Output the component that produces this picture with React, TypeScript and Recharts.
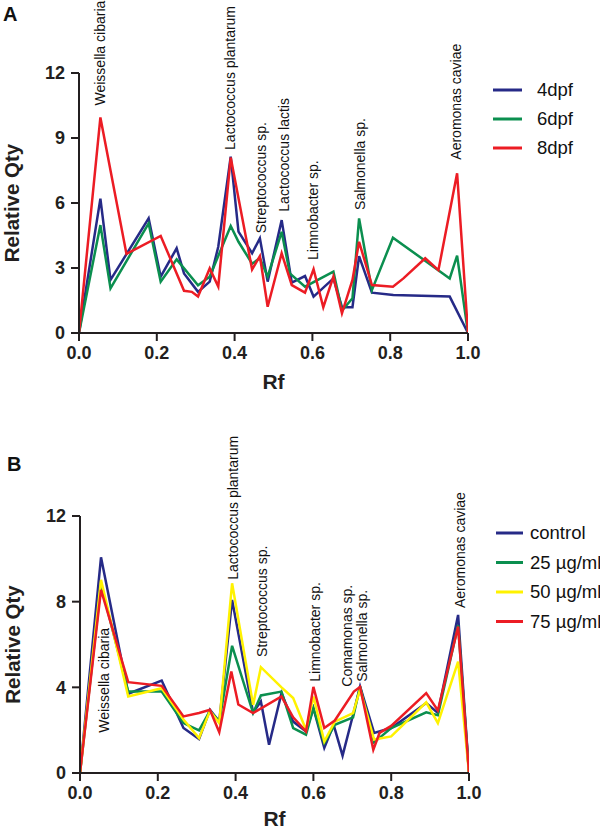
import React from "react";
import { LineChart, Line, XAxis, YAxis, ReferenceDot } from "recharts";

// ---------- Panel A data ----------
const a4Rf = [0, 0.055, 0.081, 0.179, 0.21, 0.251, 0.27, 0.306, 0.336, 0.358, 0.39, 0.41, 0.445, 0.465, 0.485, 0.521, 0.547, 0.581, 0.603, 0.654, 0.676, 0.703, 0.72, 0.753, 0.808, 0.953, 1.0];
const a4Qty = [0, 6.2, 2.45, 5.29, 2.6, 3.91, 2.75, 1.9, 2.37, 3.98, 8.14, 4.68, 3.68, 4.37, 2.37, 5.21, 2.32, 2.63, 1.68, 2.52, 1.19, 1.19, 3.55, 1.86, 1.75, 1.68, 0];

const a6Rf = [0, 0.055, 0.081, 0.179, 0.21, 0.251, 0.306, 0.336, 0.39, 0.41, 0.445, 0.465, 0.485, 0.521, 0.542, 0.581, 0.654, 0.676, 0.703, 0.72, 0.753, 0.807, 0.953, 0.972, 1.0];
const a6Qty = [0, 4.98, 2.06, 5.06, 2.37, 3.4, 2.2, 2.6, 4.94, 4.21, 3.2, 3.45, 2.6, 4.67, 2.75, 2.14, 2.83, 1.04, 1.6, 5.29, 1.98, 4.4, 2.52, 3.57, 0];

const a8Rf = [0, 0.055, 0.122, 0.21, 0.27, 0.29, 0.306, 0.336, 0.358, 0.39, 0.445, 0.465, 0.485, 0.521, 0.547, 0.581, 0.603, 0.628, 0.654, 0.676, 0.703, 0.72, 0.753, 0.807, 0.834, 0.89, 0.924, 0.972, 1.0];
const a8Qty = [0, 9.95, 3.65, 4.48, 1.95, 1.9, 1.68, 2.98, 2.14, 8.1, 2.93, 3.55, 1.21, 3.68, 2.21, 1.86, 2.94, 1.19, 2.6, 0.91, 2.45, 4.21, 2.21, 2.14, 2.52, 3.45, 2.9, 7.37, 0];

const aLabels = ["Weissella cibaria", "Lactococcus plantarum", "Streptococcus sp.", "Lactococcus lactis", "Limnobacter sp.", "Salmonella sp.", "Aeromonas caviae"];
const aLabelRf = [0.053, 0.387, 0.467, 0.526, 0.601, 0.723, 0.969];
const aLabelQty = [10.5, 8.45, 4.6, 5.6, 3.37, 5.68, 8.0];

const aSeriesNames = ["4dpf", "6dpf", "8dpf"];
const aTicksY = [0, 3, 6, 9, 12];

// ---------- Panel B data ----------
const bCtrlRf = [0, 0.054, 0.124, 0.21, 0.266, 0.306, 0.334, 0.358, 0.391, 0.445, 0.465, 0.486, 0.518, 0.548, 0.581, 0.6, 0.628, 0.652, 0.675, 0.702, 0.72, 0.756, 0.8, 0.89, 0.92, 0.972, 1.0];
const bCtrlQty = [0, 10.07, 3.7, 4.32, 2.1, 1.59, 2.95, 2.4, 8.08, 2.83, 3.34, 1.32, 3.73, 2.4, 1.94, 3.03, 1.17, 2.25, 0.81, 2.72, 4.04, 1.87, 2.1, 3.27, 2.8, 7.38, 0];

const b25Rf = [0, 0.054, 0.124, 0.21, 0.266, 0.306, 0.334, 0.358, 0.391, 0.445, 0.465, 0.518, 0.548, 0.581, 0.6, 0.628, 0.655, 0.702, 0.72, 0.756, 0.8, 0.89, 0.92, 0.972, 1.0];
const b25Qty = [0, 8.8, 3.8, 3.8, 2.33, 1.99, 2.9, 2.4, 5.94, 2.8, 3.62, 3.8, 2.1, 1.79, 3.03, 1.4, 2.25, 2.6, 4.04, 1.43, 2.1, 2.83, 2.7, 6.9, 0];

const b50Rf = [0, 0.054, 0.124, 0.21, 0.266, 0.306, 0.334, 0.358, 0.391, 0.445, 0.465, 0.518, 0.548, 0.581, 0.6, 0.628, 0.655, 0.702, 0.72, 0.756, 0.8, 0.89, 0.92, 0.972, 1.0];
const b50Qty = [0, 9.02, 3.57, 3.96, 2.5, 1.63, 2.9, 2.33, 8.86, 3.18, 4.94, 4.0, 3.5, 2.02, 3.57, 1.47, 2.4, 2.8, 3.9, 1.56, 1.71, 3.3, 2.33, 5.2, 0];

const b75Rf = [0, 0.054, 0.124, 0.21, 0.266, 0.306, 0.334, 0.358, 0.389, 0.407, 0.445, 0.518, 0.548, 0.581, 0.6, 0.628, 0.655, 0.704, 0.72, 0.754, 0.77, 0.8, 0.89, 0.92, 0.972, 1.0];
const b75Qty = [0, 8.55, 4.24, 4.07, 2.64, 2.8, 2.95, 1.9, 4.74, 3.2, 2.8, 3.57, 2.6, 1.94, 4.02, 2.1, 2.45, 3.8, 4.02, 1.09, 1.87, 2.2, 3.73, 2.92, 6.84, 0];

const bLabels = ["Weissella cibaria", "Lactococcus plantarum", "Streptococcus sp.", "Limnobacter sp.", "Comamonas sp.", "Salmonella sp.", "Aeromonas caviae"];
const bLabelRf = [0.062, 0.394, 0.469, 0.604, 0.686, 0.724, 0.977];
const bLabelQty = [1.88, 9.02, 5.42, 4.26, 4.03, 4.26, 7.7];

const bSeriesNames = ["control", "25 µg/ml", "50 µg/ml", "75 µg/ml"];
const bTicksY = [0, 4, 8, 12];

const xTicks = [0, 0.2, 0.4, 0.6, 0.8, 1.0];

// ---------- styles ----------
const FONT = "'Liberation Sans', Arial, sans-serif";
const AXIS = "#231f20";
const BLUE = "#262a87";
const GREEN = "#0b8f4f";
const RED = "#ec1c24";
const YELLOW = "#fff200";

const zip = (rf: number[], q: number[]) => rf.map((r, i) => ({ rf: r, qty: q[i] }));

const aSeries = [
  { name: aSeriesNames[0], color: BLUE, data: zip(a4Rf, a4Qty) },
  { name: aSeriesNames[1], color: GREEN, data: zip(a6Rf, a6Qty) },
  { name: aSeriesNames[2], color: RED, data: zip(a8Rf, a8Qty) },
];
const bSeries = [
  { name: bSeriesNames[0], color: BLUE, data: zip(bCtrlRf, bCtrlQty) },
  { name: bSeriesNames[1], color: GREEN, data: zip(b25Rf, b25Qty) },
  { name: bSeriesNames[2], color: YELLOW, data: zip(b50Rf, b50Qty) },
  { name: bSeriesNames[3], color: RED, data: zip(b75Rf, b75Qty) },
];

const makeAnnot = (text: string) => (p: any) => {
  const { cx, cy } = p;
  if (cx == null || cy == null) return <g />;
  return (
    <text
      x={cx}
      y={cy}
      dy="0.36em"
      transform={`rotate(-90, ${cx}, ${cy})`}
      fontFamily={FONT}
      fontSize={14}
      fill="#111"
      textAnchor="start"
    >
      {text}
    </text>
  );
};

const tickStyle = { fontFamily: FONT, fontSize: 18, fontWeight: 700, fill: AXIS };

function Panel(props: {
  series: { name: string; color: string; data: { rf: number; qty: number }[] }[];
  labels: string[];
  labelRf: number[];
  labelQty: number[];
  yTicks: number[];
  height: number;
  top: number;
  xAxisH: number;
  yAxisW: number;
  right: number;
  yLabelX: number;
  rfDy: number;
}) {
  const { series, labels, labelRf, labelQty, yTicks, height, top, xAxisH, yAxisW, right, yLabelX, rfDy } = props;
  return (
    <LineChart
      width={600}
      height={height}
      margin={{ top, right, left: 0, bottom: 0 }}
      style={{ position: "absolute", left: 0, top: 0 }}
    >
      <XAxis
        type="number"
        dataKey="rf"
        domain={[0, 1]}
        ticks={xTicks}
        allowDataOverflow
        tickFormatter={(v: number) => v.toFixed(1)}
        height={xAxisH}
        tickSize={8}
        tickMargin={5}
        axisLine={{ stroke: AXIS, strokeWidth: 2 }}
        tickLine={{ stroke: AXIS, strokeWidth: 2 }}
        tick={tickStyle}
        label={{
          content: (lp: any) => {
            const vb = lp.viewBox || {};
            return (
              <text
                x={vb.x + vb.width / 2}
                y={vb.y + rfDy}
                textAnchor="middle"
                fontFamily={FONT}
                fontSize={21}
                fontWeight={700}
                fill={AXIS}
              >
                Rf
              </text>
            );
          },
        }}
      />
      <YAxis
        type="number"
        dataKey="qty"
        domain={[0, 12]}
        ticks={yTicks}
        allowDataOverflow
        width={yAxisW}
        tickSize={8}
        tickMargin={6}
        axisLine={{ stroke: AXIS, strokeWidth: 2 }}
        tickLine={{ stroke: AXIS, strokeWidth: 2 }}
        tick={tickStyle}
        label={{
          content: (lp: any) => {
            const vb = lp.viewBox || {};
            const cy = vb.y + vb.height / 2;
            return (
              <text
                x={yLabelX}
                y={cy}
                transform={`rotate(-90, ${yLabelX}, ${cy})`}
                textAnchor="middle"
                fontFamily={FONT}
                fontSize={20.5}
                fontWeight={700}
                fill={AXIS}
              >
                Relative Qty
              </text>
            );
          },
        }}
      />
      {series.map((s) => (
        <Line
          key={s.name}
          data={s.data}
          dataKey="qty"
          name={s.name}
          type="linear"
          stroke={s.color}
          strokeWidth={2.5}
          dot={false}
          activeDot={false}
          isAnimationActive={false}
        />
      ))}
      {labels.map((t, i) => (
        <ReferenceDot
          key={t + i}
          x={labelRf[i]}
          y={labelQty[i]}
          r={0}
          ifOverflow="visible"
          shape={makeAnnot(t)}
        />
      ))}
    </LineChart>
  );
}

function LegendBox(props: { series: { name: string; color: string }[]; x1: number; x2: number; tx: number; y0: number; step: number }) {
  const { series, x1, x2, tx, y0, step } = props;
  return (
    <g>
      {series.map((s, i) => {
        const y = y0 + i * step;
        return (
          <g key={s.name}>
            <line x1={x1} x2={x2} y1={y} y2={y} stroke={s.color} strokeWidth={3} />
            <text x={tx} y={y} dy="0.35em" fontFamily={FONT} fontSize={18.5} fill="#111">
              {s.name}
            </text>
          </g>
        );
      })}
    </g>
  );
}

export default function App() {
  return (
    <div style={{ position: "absolute", left: 0, top: 0, width: 600, height: 831, background: "#fff", overflow: "hidden" }}>
      <div style={{ position: "absolute", left: 0, top: 0, width: 600, height: 400 }}>
        <Panel
          series={aSeries}
          labels={aLabels}
          labelRf={aLabelRf}
          labelQty={aLabelQty}
          yTicks={aTicksY}
          height={400}
          top={73}
          xAxisH={67}
          yAxisW={79}
          right={132}
          yLabelX={18.5}
          rfDy={56}
        />
      </div>
      <div style={{ position: "absolute", left: 0, top: 420, width: 600, height: 411 }}>
        <Panel
          series={bSeries}
          labels={bLabels}
          labelRf={bLabelRf}
          labelQty={bLabelQty}
          yTicks={bTicksY}
          height={411}
          top={96}
          xAxisH={58}
          yAxisW={80}
          right={131}
          yLabelX={19.5}
          rfDy={53}
        />
      </div>
      <svg width={600} height={831} style={{ position: "absolute", left: 0, top: 0, pointerEvents: "none" }}>
        <text x={3} y={21} fontFamily={FONT} fontSize={20} fontWeight={700} fill="#111">A</text>
        <text x={7} y={471} fontFamily={FONT} fontSize={20} fontWeight={700} fill="#111">B</text>
        <LegendBox series={aSeries} x1={493} x2={522} tx={537} y0={90} step={29} />
        <LegendBox series={bSeries} x1={496} x2={523} tx={530} y0={533} step={29.5} />
      </svg>
    </div>
  );
}
